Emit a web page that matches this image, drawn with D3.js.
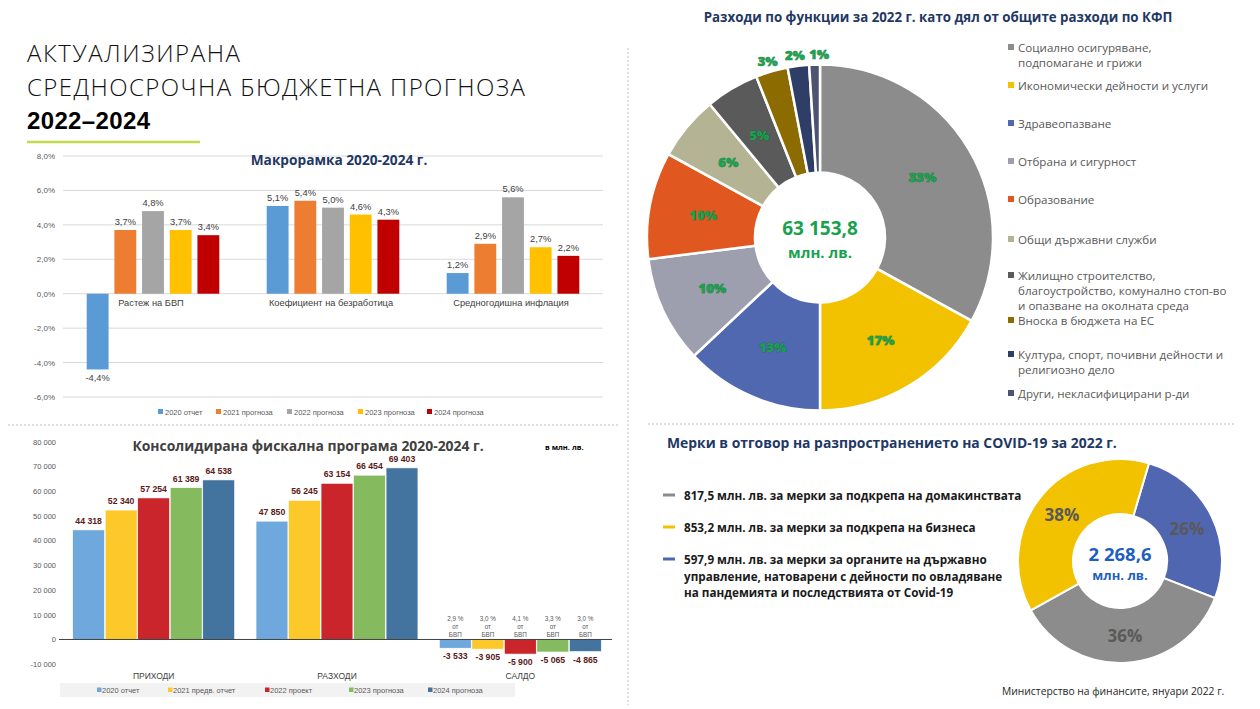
<!DOCTYPE html>
<html><head><meta charset="utf-8">
<script src="https://cdn.jsdelivr.net/npm/d3@7"></script>
<style>body{margin:0;background:#fff;} svg{display:block;}</style>
</head><body><svg id="c" width="1260" height="709"></svg>
<script>
// ---------- DATA ----------
const titleLines = ["АКТУАЛИЗИРАНА", "СРЕДНОСРОЧНА БЮДЖЕТНА ПРОГНОЗА", "2022–2024"];

const macroTitle = "Макрорамка 2020-2024 г.";
const macroCategories = ["Растеж на БВП", "Коефициент на безработица", "Средногодишна инфлация"];
const macroSeries = ["2020 отчет", "2021 прогноза", "2022 прогноза", "2023 прогноза", "2024 прогноза"];
const macro2020 = [-4.4, 5.1, 1.2];
const macro2021 = [3.7, 5.4, 2.9];
const macro2022 = [4.8, 5.0, 5.6];
const macro2023 = [3.7, 4.6, 2.7];
const macro2024 = [3.4, 4.3, 2.2];
const macroTicks = [-6, -4, -2, 0, 2, 4, 6, 8];

const fiscalTitle = "Консолидирана фискална програма 2020-2024 г.";
const fiscalUnit = "в млн. лв.";
const fiscalCategories = ["ПРИХОДИ", "РАЗХОДИ", "САЛДО"];
const fiscalSeries = ["2020 отчет", "2021 предв. отчет", "2022 проект", "2023 прогноза", "2024 прогноза"];
const fiscal2020 = [44318, 47850, -3533];
const fiscal2021 = [52340, 56245, -3905];
const fiscal2022 = [57254, 63154, -5900];
const fiscal2023 = [61389, 66454, -5065];
const fiscal2024 = [64538, 69403, -4865];
const deficitGdp = ["2,9 %", "3,0 %", "4,1 %", "3,3 %", "3,0 %"];
const fiscalTicks = [-10000, 0, 10000, 20000, 30000, 40000, 50000, 60000, 70000, 80000];

const funcTitle = "Разходи по функции за 2022 г. като дял от общите разходи по КФП";
const funcLabels = [
  ["Социално осигуряване,", "подпомагане и грижи"],
  ["Икономически дейности и услуги"],
  ["Здравеопазване"],
  ["Отбрана и сигурност"],
  ["Образование"],
  ["Общи държавни служби"],
  ["Жилищно строителство,", "благоустройство, комунално стоп-во", "и опазване на околната среда"],
  ["Вноска в бюджета на ЕС"],
  ["Култура, спорт, почивни дейности и", "религиозно дело"],
  ["Други, некласифицирани р-ди"]
];
const funcShares = [33, 17, 13, 10, 10, 6, 5, 3, 2, 1];
const funcTotal = ["63 153,8", "млн. лв."];

const covidTitle = "Мерки в отговор на разпространението на COVID-19 за 2022 г.";
const covidLabels = [
  ["597,9 млн. лв. за мерки за органите на държавно", "управление, натоварени с дейности по овладяване", "на пандемията и последствията от Covid-19"],
  ["817,5 млн. лв. за мерки за подкрепа на домакинствата"],
  ["853,2 млн. лв. за мерки за подкрепа на бизнеса"]
];
const covidValues = [597.9, 817.5, 853.2];
const covidTotal = ["2 268,6", "млн. лв."];
const footer = "Министерство на финансите, януари 2022 г.";

// ---------- STYLE ----------
const macroColors = ["#5B9BD5", "#ED7D31", "#A5A5A5", "#FFC000", "#C00000"];
const fiscalColors = ["#6FA8DC", "#FDC82A", "#C9252B", "#86BA5E", "#43739F"];
const funcColors = ["#8C8C8C", "#F2C100", "#4F68B0", "#9D9EAE", "#E0581F", "#B4B494", "#5A5A5A", "#8C6C00", "#2F3E66", "#4E5370"];
const covidColors = ["#5066B0", "#8C8C8C", "#F2C100"];
const navy = "#1F3864";
const SANS = "'Liberation Sans', Arial, sans-serif";
const GEO = "'Open Sans', 'Noto Sans', sans-serif";

const svg = d3.select("#c");
const numSp = n => (n < 0 ? "-" : "") + Math.abs(n).toString().replace(/\B(?=(\d{3})+(?!\d))/g, " ");
const pct1 = d => (d < 0 ? "-" : "") + Math.abs(d).toFixed(1).replace(".", ",") + "%";

// ---------- HEADER ----------
svg.append("text").attr("x", 27).attr("y", 62).attr("font-family", GEO).attr("font-weight", 300)
  .attr("font-size", 24).attr("fill", "#111").attr("textLength", 213).attr("lengthAdjust", "spacing").text(titleLines[0]);
svg.append("text").attr("x", 27).attr("y", 96).attr("font-family", GEO).attr("font-weight", 300)
  .attr("font-size", 24).attr("fill", "#111").attr("textLength", 498).attr("lengthAdjust", "spacing").text(titleLines[1]);
svg.append("text").attr("x", 27).attr("y", 129).attr("font-family", SANS).attr("font-weight", 700)
  .attr("font-size", 24).attr("fill", "#000").attr("textLength", 123).attr("lengthAdjust", "spacing").text(titleLines[2]);
svg.append("line").attr("x1", 27).attr("x2", 200).attr("y1", 142).attr("y2", 142)
  .attr("stroke", "#C5D94B").attr("stroke-width", 2.5);

// separators
const dashed = (x1, y1, x2, y2) => svg.append("line").attr("x1", x1).attr("y1", y1).attr("x2", x2).attr("y2", y2)
  .attr("stroke", "#BFBFBF").attr("stroke-width", 1).attr("stroke-dasharray", "2,2");
dashed(628, 48, 628, 705);
dashed(8, 425, 620, 425);
dashed(648, 424, 1236, 424);

// ---------- MACRO CHART ----------
(function () {
  const series = [macro2020, macro2021, macro2022, macro2023, macro2024];
  const y = d3.scaleLinear().domain([-6, 8]).range([397, 156]);
  const x0 = d3.scaleBand().domain(macroCategories).range([63, 603]);
  const x1 = d3.scaleBand().domain(macroSeries).range([23.7, 156.3]).paddingInner(0.21);
  const g = svg.append("g");
  g.selectAll("line.grid").data(macroTicks).enter().append("line")
    .attr("x1", 63).attr("x2", 603).attr("y1", d => y(d)).attr("y2", d => y(d))
    .attr("stroke", "#D9D9D9").attr("stroke-width", 1);
  const ax = g.append("g").attr("transform", "translate(57,0)")
    .call(d3.axisLeft(y).tickValues(macroTicks).tickSize(0).tickPadding(2).tickFormat(pct1));
  ax.select(".domain").remove();
  ax.selectAll("text").attr("font-family", SANS).attr("font-size", 8).attr("fill", "#595959");

  series.forEach((vals, si) => {
    const s = macroSeries[si];
    vals.forEach((v, ci) => {
      const c = macroCategories[ci];
      const bx = x0(c) + x1(s);
      g.append("rect").attr("x", bx).attr("width", x1.bandwidth())
        .attr("y", y(Math.max(0, v))).attr("height", Math.abs(y(v) - y(0))).attr("fill", macroColors[si]);
      g.append("text").attr("x", bx + x1.bandwidth() / 2)
        .attr("y", v >= 0 ? y(v) - 5 : y(v) + 12)
        .attr("text-anchor", "middle").attr("font-family", SANS).attr("font-size", 9.3)
        .attr("fill", "#404040").text(pct1(v));
    });
  });
  g.selectAll("text.cat").data(macroCategories).enter().append("text")
    .attr("x", d => x0(d) + x0.bandwidth() / 2 - 2).attr("y", 306).attr("text-anchor", "middle")
    .attr("font-family", SANS).attr("font-size", 9.3).attr("fill", "#404040").text(d => d);
  g.append("text").attr("x", 339).attr("y", 165).attr("text-anchor", "middle")
    .attr("font-family", GEO).attr("font-weight", 700).attr("font-size", 13.7).attr("fill", navy).text(macroTitle);
  // legend
  const lx = [158, 216, 287, 358, 427];
  macroSeries.forEach((s, i) => {
    g.append("rect").attr("x", lx[i]).attr("y", 409).attr("width", 5).attr("height", 5).attr("fill", macroColors[i]);
    g.append("text").attr("x", lx[i] + 7).attr("y", 414.5).attr("font-family", SANS).attr("font-size", 7.5)
      .attr("fill", "#595959").text(s);
  });
})();

// ---------- FISCAL CHART ----------
(function () {
  const series = [fiscal2020, fiscal2021, fiscal2022, fiscal2023, fiscal2024];
  const y = d3.scaleLinear().domain([-10000, 80000]).range([664.2, 441.7]);
  const x0 = d3.scaleBand().domain(fiscalCategories).range([62, 612]);
  const x1 = d3.scaleBand().domain(fiscalSeries).range([10.7, 172.6]).paddingInner(0.02);
  const g = svg.append("g");
  const ax = g.append("g").attr("transform", "translate(56,0)")
    .call(d3.axisLeft(y).tickValues(fiscalTicks).tickSize(0).tickPadding(0).tickFormat(numSp));
  ax.select(".domain").remove();
  ax.selectAll("text").attr("font-family", SANS).attr("font-size", 7.5).attr("fill", "#595959");

  series.forEach((vals, si) => {
    const s = fiscalSeries[si];
    vals.forEach((v, ci) => {
      const c = fiscalCategories[ci];
      const bx = x0(c) + x1(s);
      const cx = bx + x1.bandwidth() / 2;
      g.append("rect").attr("x", bx).attr("width", x1.bandwidth())
        .attr("y", y(Math.max(0, v))).attr("height", Math.abs(y(v) - y(0)))
        .attr("fill", fiscalColors[si]).attr("stroke", "#fff").attr("stroke-width", 0.6);
      g.append("text").attr("x", cx).attr("y", v >= 0 ? y(v) - 6 : y(v) + 11)
        .attr("text-anchor", "middle").attr("font-family", SANS).attr("font-weight", 700)
        .attr("font-size", 8.7).attr("fill", "#5A1A1A").text(numSp(v));
      if (v < 0) {
        [deficitGdp[si], "от", "БВП"].forEach((t, k) => {
          g.append("text").attr("x", cx).attr("y", y(0) - 18 + k * 8).attr("text-anchor", "middle")
            .attr("font-family", SANS).attr("font-size", 6.3).attr("fill", "#595959").text(t);
        });
      }
    });
  });
  g.append("line").attr("x1", 59).attr("x2", 612).attr("y1", y(0)).attr("y2", y(0))
    .attr("stroke", "#404040").attr("stroke-width", 1);
  g.selectAll("text.cat").data(fiscalCategories).enter().append("text")
    .attr("x", d => x0(d) + x0.bandwidth() / 2).attr("y", 679).attr("text-anchor", "middle")
    .attr("font-family", SANS).attr("font-size", 8.5).attr("fill", "#404040").text(d => d);
  g.append("text").attr("x", 308).attr("y", 451).attr("text-anchor", "middle")
    .attr("font-family", GEO).attr("font-weight", 700).attr("font-size", 13.9).attr("fill", "#404040").text(fiscalTitle);
  g.append("text").attr("x", 545).attr("y", 450)
    .attr("font-family", GEO).attr("font-weight", 700).attr("font-size", 7.5).attr("fill", "#000").text(fiscalUnit);
  // legend
  g.append("rect").attr("x", 60).attr("y", 683).attr("width", 455).attr("height", 14).attr("fill", "#F2F2F2");
  const lx = [97, 168, 265, 349, 428];
  fiscalSeries.forEach((s, i) => {
    g.append("rect").attr("x", lx[i]).attr("y", 687.5).attr("width", 4.5).attr("height", 4.5).attr("fill", fiscalColors[i]);
    g.append("text").attr("x", lx[i] + 5).attr("y", 692.5).attr("font-family", SANS).attr("font-size", 7.5)
      .attr("fill", "#595959").text(s);
  });
})();

// ---------- FUNCTIONS DONUT ----------
(function () {
  const cx = 820, cy = 237.5, R = 173, r0 = 65;
  const g = svg.append("g").attr("transform", `translate(${cx},${cy})`);
  const pie = d3.pie().sort(null).value(d => d)(funcShares);
  const arc = d3.arc().innerRadius(r0).outerRadius(R);
  g.selectAll("path").data(pie).enter().append("path").attr("d", arc)
    .attr("fill", (d, i) => funcColors[i]).attr("stroke", "#fff").attr("stroke-width", 2.5);
  const outArc = d3.arc().innerRadius(184).outerRadius(184);
  const nudge = { 7: -1, 8: -2, 9: 5 };
  pie.forEach((d, i) => {
    const p = d.data >= 4 ? arc.centroid(d) : outArc.centroid(d);
    g.append("text").attr("x", p[0] + (nudge[i] || 0)).attr("y", p[1]).attr("text-anchor", "middle").attr("dominant-baseline", "central")
      .attr("font-family", GEO).attr("font-weight", 800).attr("font-size", 13)
      .attr("fill", "#18A24E").attr("stroke", "#135C2E").attr("stroke-width", 0.5).attr("paint-order", "stroke")
      .text(d.data + "%");
  });
  g.append("text").attr("y", -10).attr("text-anchor", "middle").attr("dominant-baseline", "central")
    .attr("font-family", GEO).attr("font-weight", 700).attr("font-size", 19).attr("fill", "#18A24E").text(funcTotal[0]);
  g.append("text").attr("y", 14).attr("text-anchor", "middle").attr("dominant-baseline", "central")
    .attr("font-family", GEO).attr("font-weight", 700).attr("font-size", 15).attr("fill", "#18A24E").text(funcTotal[1]);

  svg.append("text").attr("x", 938).attr("y", 22).attr("text-anchor", "middle")
    .attr("font-family", GEO).attr("font-weight", 700).attr("font-size", 13.3).attr("fill", navy).text(funcTitle);
  // legend
  const ly = [47, 85, 123, 161, 199, 239, 275, 320, 354, 393];
  funcLabels.forEach((lines, i) => {
    svg.append("rect").attr("x", 1008).attr("y", ly[i] - 3).attr("width", 6).attr("height", 6).attr("fill", funcColors[i]);
    lines.forEach((t, k) => {
      svg.append("text").attr("x", 1018).attr("y", ly[i] + k * 15).attr("dominant-baseline", "central")
        .attr("font-family", GEO).attr("font-size", 11.6).attr("fill", "#595959").text(t);
    });
  });
})();

// ---------- COVID ----------
(function () {
  svg.append("text").attr("x", 667).attr("y", 448)
    .attr("font-family", GEO).attr("font-weight", 700).attr("font-size", 13.9).attr("fill", navy).text(covidTitle);
  const order = [1, 2, 0];
  const ys = [495, 527, 559];
  order.forEach((idx, j) => {
    svg.append("line").attr("x1", 663).attr("x2", 675).attr("y1", ys[j]).attr("y2", ys[j])
      .attr("stroke", covidColors[idx]).attr("stroke-width", 3);
    covidLabels[idx].forEach((t, k) => {
      svg.append("text").attr("x", 684).attr("y", ys[j] + k * 16.5).attr("dominant-baseline", "central")
        .attr("font-family", GEO).attr("font-weight", 700).attr("font-size", 11.7).attr("fill", "#1A1A1A").text(t);
    });
  });
  const cx = 1120, cy = 561, R = 102, r0 = 47;
  const g = svg.append("g").attr("transform", `translate(${cx},${cy})`);
  const start = 16.5 * Math.PI / 180;
  const pie = d3.pie().sort(null).value(d => d).startAngle(start).endAngle(start + 2 * Math.PI)(covidValues);
  const arc = d3.arc().innerRadius(r0).outerRadius(R);
  const total = d3.sum(covidValues);
  g.selectAll("path").data(pie).enter().append("path").attr("d", arc)
    .attr("fill", (d, i) => covidColors[i]).attr("stroke", "#fff").attr("stroke-width", 2);
  pie.forEach(d => {
    const p = arc.centroid(d);
    g.append("text").attr("x", p[0]).attr("y", p[1]).attr("text-anchor", "middle").attr("dominant-baseline", "central")
      .attr("font-family", GEO).attr("font-weight", 700).attr("font-size", 17).attr("fill", "#595959")
      .text(Math.round(d.data / total * 100) + "%");
  });
  g.append("text").attr("y", -8).attr("text-anchor", "middle").attr("dominant-baseline", "central")
    .attr("font-family", GEO).attr("font-weight", 700).attr("font-size", 18.5).attr("fill", "#1F5FBF").text(covidTotal[0]);
  g.append("text").attr("y", 14).attr("text-anchor", "middle").attr("dominant-baseline", "central")
    .attr("font-family", GEO).attr("font-weight", 700).attr("font-size", 13).attr("fill", "#1F5FBF").text(covidTotal[1]);

  svg.append("text").attr("x", 1002).attr("y", 695).attr("font-family", GEO).attr("font-size", 10.3)
    .attr("fill", "#262626").text(footer);
})();
</script>
</body></html>
